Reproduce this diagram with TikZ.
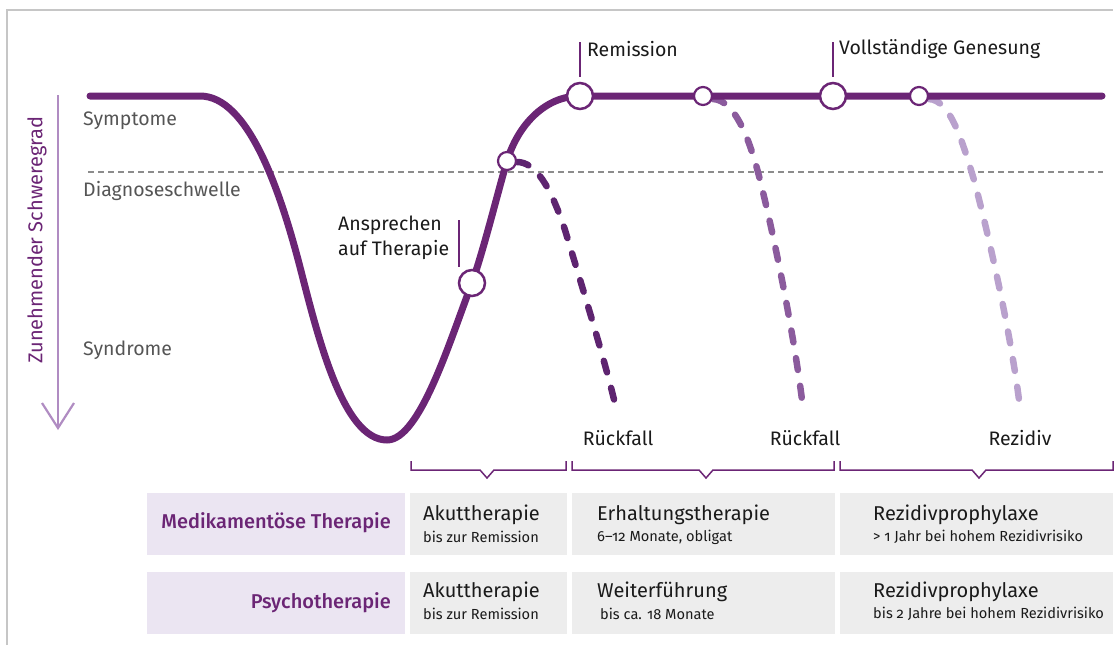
\documentclass[tikz,border=0pt]{standalone}
\usepackage{fontspec}
\setmainfont{Fira Sans}[Numbers=OldStyle]
\newfontfamily\semib{Fira Sans Medium}[Numbers=OldStyle]
\usetikzlibrary{arrows.meta}
\definecolor{mainpurple}{HTML}{6B2575}
\definecolor{dashA}{HTML}{5E2470}
\definecolor{dashB}{HTML}{8B5B9D}
\definecolor{dashC}{HTML}{B9A1CD}
\definecolor{axiscol}{HTML}{B08CC2}
\definecolor{lav}{HTML}{EBE5F2}
\definecolor{cellgray}{HTML}{EDEDED}
\definecolor{framegray}{HTML}{C6C6C6}
\definecolor{txtgray}{HTML}{555555}
\definecolor{txtblack}{HTML}{1A1A1A}
\definecolor{threshgray}{HTML}{8C8C8C}
\tikzset{
  mainline/.style={line width=7pt, draw=mainpurple, line cap=round},
  dashline/.style={line width=6.5pt, line cap=round, dash pattern=on 12pt off 16pt},
  bigdot/.style={circle, draw=mainpurple, fill=white, line width=2.5pt, minimum size=26pt, inner sep=0pt},
  smalldot/.style={circle, draw=mainpurple, fill=white, line width=2.2pt, minimum size=18pt, inner sep=0pt},
  tickline/.style={line width=1.2pt, draw=mainpurple},
  brace/.style={line width=1.5pt, draw=mainpurple, line join=miter},
  axislbl/.style={font=\fontsize{19.5}{23}\selectfont, text=txtgray, anchor=west, inner sep=0pt},
  lbl/.style={font=\fontsize{19.5}{24.5}\selectfont, text=txtblack, inner sep=0pt},
  rowhead/.style={font=\semib\fontsize{20}{24}\selectfont, text=mainpurple, anchor=east, inner sep=0pt},
  celltitle/.style={font=\fontsize{20}{24}\selectfont, text=txtblack, anchor=west, inner sep=0pt},
  cellsub/.style={font=\fontsize{14.6}{17}\selectfont, text=txtblack, anchor=west, inner sep=0pt},
}
\begin{document}
\begin{tikzpicture}[x=1pt,y=-1pt]
\useasboundingbox (0,0) rectangle (1115,645);
% frame
\draw[framegray, line width=1.2pt] (7,645) -- (7,10) -- (1113,10);
% threshold
\draw[threshgray, line width=1.3pt, dash pattern=on 6pt off 4pt] (88,172) -- (1103,172);
% axis
\draw[axiscol, line width=2.2pt] (58,95) -- (58,428);
\draw[axiscol, line width=2.2pt] (42,403) -- (58,428) -- (74,403);
\node[rotate=90, font=\fontsize{20}{24}\selectfont, text=mainpurple, inner sep=0pt] (axt) at (37,240) {Zunehmender Schweregrad};
\node[axislbl] (sym) at (83,121) {Symptome};
\node[axislbl] (dia) at (83,191) {Diagnoseschwelle};
\node[axislbl] (syn) at (83,350) {Syndrome};
% dashed relapse curves
\draw[dashline, dashA] (517,162) .. controls (535,162) and (550,185) .. (565,230) .. controls (580,280) and (605,360) .. (616,408);
\draw[dashline, dashB] (713,99) .. controls (735,100) and (750,140) .. (760,180) .. controls (775,240) and (795,340) .. (803,408);
\draw[dashline, dashC] (929,99) .. controls (950,100) and (962,140) .. (974,180) .. controls (990,240) and (1012,340) .. (1020,408);
% main curve
\draw[mainline] (90,96) -- (200,96) .. controls (248,96) and (280,190) .. (300,267)
  .. controls (318,337) and (343,440) .. (387,440)
  .. controls (420,440) and (450,340) .. (472,283)
  .. controls (485,245) and (497,195) .. (507,161)
  .. controls (518,125) and (545,96) .. (580,96) -- (1102,96);
% circles
\node[bigdot] (ans) at (472,283) {};
\node[smalldot] (s1) at (507,161) {};
\node[bigdot] (rem) at (580,96) {};
\node[smalldot] (s2) at (703,96) {};
\node[bigdot] (gen) at (833,96) {};
\node[smalldot] (s3) at (919,96) {};
% label ticks and texts
\draw[tickline] (580,42) -- (580,77);
\node[lbl, anchor=west] (remt) at (587,49) {Remission};
\draw[tickline] (833,42) -- (833,77);
\node[lbl, anchor=west] (gent) at (839,49) {Vollständige Genesung};
\draw[tickline] (459,220) -- (459,267);
\node[lbl, anchor=west, align=left] (anst) at (338,238) {Ansprechen\\auf Therapie};
\node[lbl] (r1) at (618,438) {Rückfall};
\node[lbl] (r2) at (805,438) {Rückfall};
\node[lbl] (r3) at (1020,438) {Rezidiv};
% braces
\draw[brace] (411,461) -- (411,470) -- (480,470) -- (487,478) -- (494,470) -- (566,470) -- (566,461);
\draw[brace] (572,461) -- (572,470) -- (699,470) -- (706,478) -- (713,470) -- (834,470) -- (834,461);
\draw[brace] (840,461) -- (840,470) -- (972,470) -- (979,478) -- (986,470) -- (1113,470) -- (1113,461);
% table
\fill[lav] (147,493) rectangle (405,555);
\fill[cellgray] (410,493) rectangle (567,555);
\fill[cellgray] (572,493) rectangle (835,555);
\fill[cellgray] (840,493) rectangle (1113,555);
\fill[lav] (147,572) rectangle (405,634);
\fill[cellgray] (410,572) rectangle (567,634);
\fill[cellgray] (572,572) rectangle (835,634);
\fill[cellgray] (840,572) rectangle (1113,634);
\node[rowhead] (h1) at (391,523) {Medikamentöse Therapie};
\node[rowhead] (h2) at (391,603) {Psychotherapie};
\node[celltitle] (a1) at (423,515) {Akuttherapie};
\node[cellsub] (a1s) at (423,537) {bis zur Remission};
\node[celltitle] (b1) at (597,515) {Erhaltungstherapie};
\node[cellsub] (b1s) at (597,537) {6–12 Monate, obligat};
\node[celltitle] (c1) at (873,515) {Rezidivprophylaxe};
\node[cellsub] (c1s) at (873,537) {> 1 Jahr bei hohem Rezidivrisiko};
\node[celltitle] (a2) at (423,592) {Akuttherapie};
\node[cellsub] (a2s) at (423,614) {bis zur Remission};
\node[celltitle] (b2) at (597,592) {Weiterführung};
\node[cellsub] (b2s) at (600,614) {bis ca. 18 Monate};
\node[celltitle] (c2) at (873,592) {Rezidivprophylaxe};
\node[cellsub] (c2s) at (873,614) {bis 2 Jahre bei hohem Rezidivrisiko};
\end{tikzpicture}
\end{document}
